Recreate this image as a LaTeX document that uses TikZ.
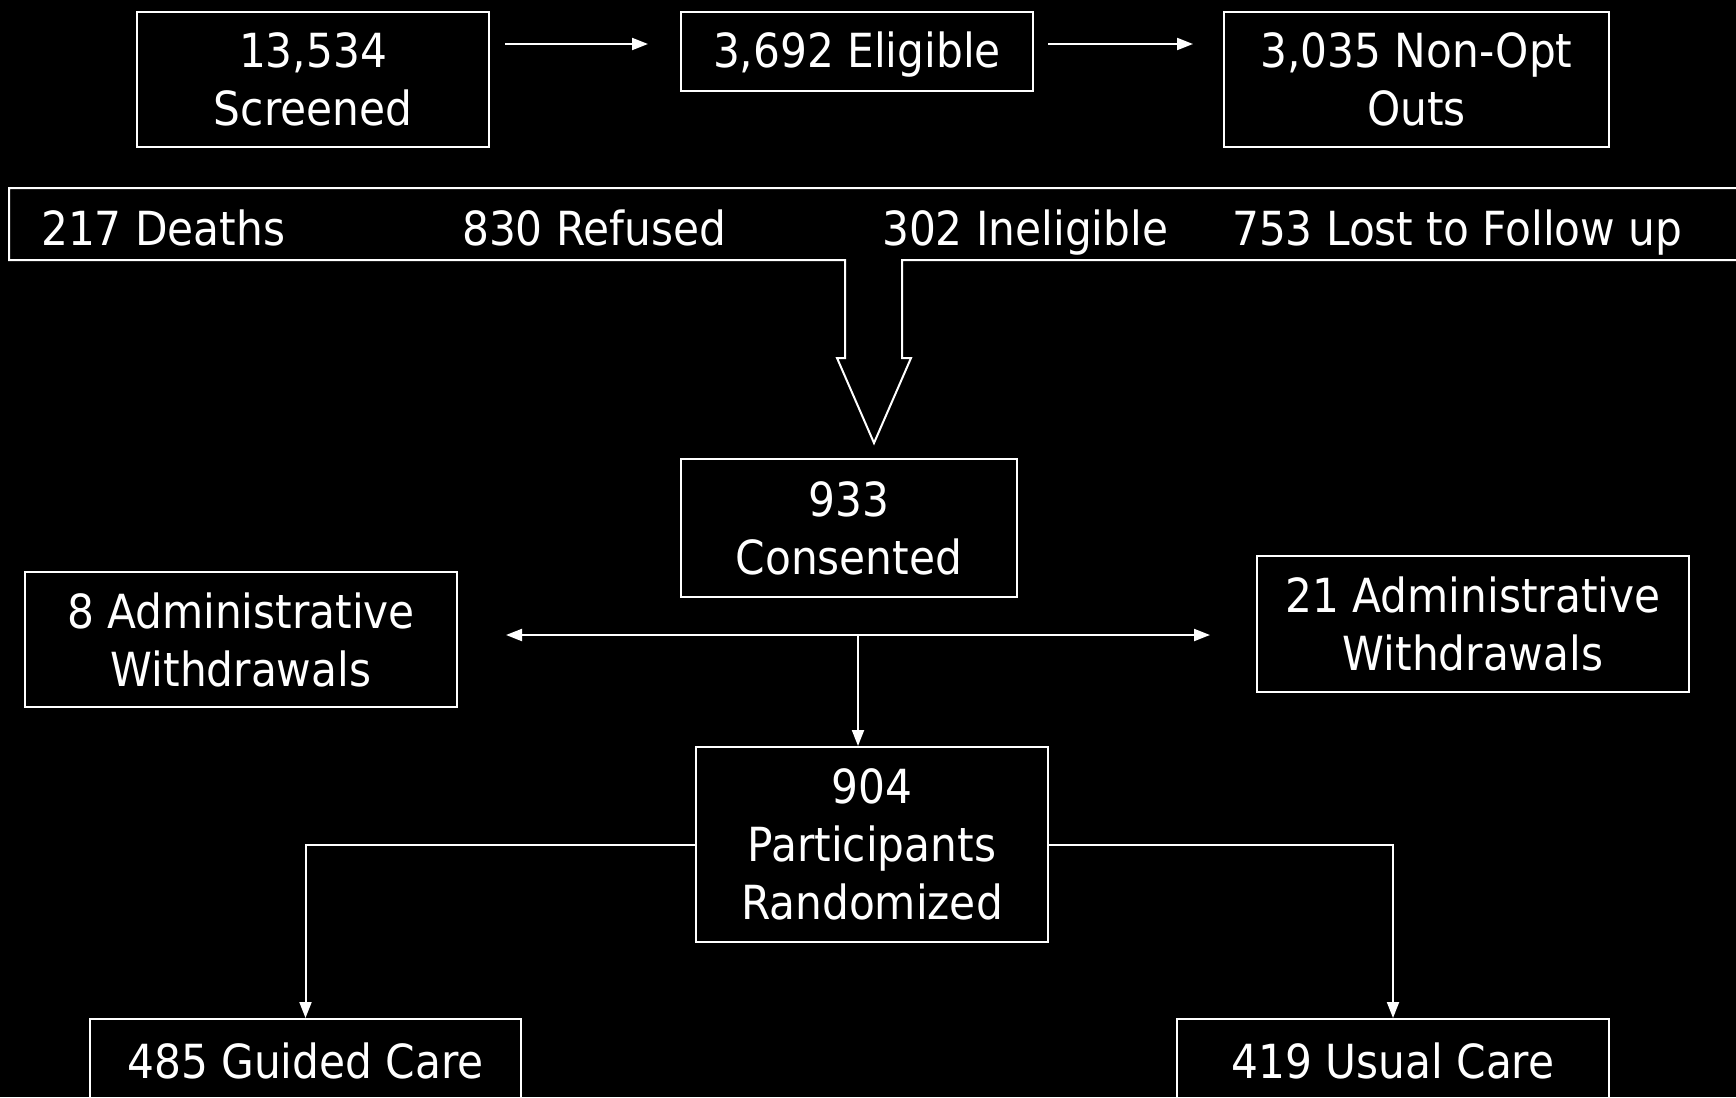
\documentclass[tikz,border=0pt]{standalone}
\usepackage{fontspec}
\setmainfont{DejaVu Sans Condensed}
\usetikzlibrary{arrows.meta}
\begin{document}
\begin{tikzpicture}[x=1pt,y=-1pt,
  every node/.style={text=white,font=\fontsize{47}{58}\selectfont,inner sep=0pt},
  box/.style={draw=white,line width=2pt,align=center},
  conn/.style={draw=white,line width=2pt,-{Triangle[width=12pt,length=16pt]}},
  dconn/.style={draw=white,line width=2pt,{Triangle[width=12pt,length=16pt]}-{Triangle[width=12pt,length=16pt]}}]
\fill[black] (0,0) rectangle (1736,1097);
\useasboundingbox (0,0) rectangle (1736,1097);
\clip (0,0) rectangle (1736,1097);
% top row
\node[box,minimum width=352pt,minimum height=135pt] (scr) at (313,79.5) {13,534\\Screened};
\node[box,minimum width=352pt,minimum height=79pt] (eli) at (857,51.5) {};
\node (elit) at (857,55) {3,692 Eligible};
\node[box,minimum width=385pt,minimum height=135pt] (nop) at (1416.5,79.5) {3,035 Non-Opt\\Outs};
\coordinate (a1s) at (505,44); \coordinate (a1e) at (648,44);
\coordinate (a2s) at (1048,44); \coordinate (a2e) at (1193,44);
\draw[conn] (a1s) -- (a1e);
\draw[conn] (a2s) -- (a2e);
% band with big arrow
\draw[white,line width=2pt,line join=miter] (845,260) -- (9,260) -- (9,188) -- (1760,188) -- (1760,260) -- (902,260) -- (902,358) -- (911,358) -- (874,443) -- (837,358) -- (845,358) -- cycle;
\node[anchor=base west] (dea) at (41,245) {217 Deaths};
\node[anchor=base west] (ref) at (462,245) {830 Refused};
\node[anchor=base west] (ine) at (882,245) {302 Ineligible};
\node[anchor=base west] (los) at (1232,245) {753 Lost to Follow up};
% consented
\node[box,minimum width=336pt,minimum height=138pt] (con) at (849,528) {933\\Consented};
\node[box,minimum width=432pt,minimum height=135pt] (ad8) at (241,639.5) {8 Administrative\\Withdrawals};
\node[box,minimum width=432pt,minimum height=136pt] (ad21) at (1473,624) {21 Administrative\\Withdrawals};
\coordinate (dl) at (506,635); \coordinate (dr) at (1210,635); \coordinate (dm) at (858,635);
\draw[dconn] (dl) -- (dr);
\node[box,minimum width=352pt,minimum height=195pt] (ran) at (872,844.5) {904\\Participants\\Randomized};
\draw[conn] (dm) -- (dm |- ran.north);
% bottom
\node[box,minimum width=431pt,minimum height=204pt,anchor=north] (gui) at (305.5,1018) {};
\node[box,minimum width=432pt,minimum height=204pt,anchor=north] (usu) at (1393,1018) {};
\node (guit) at (305.5,1061) {485 Guided Care};
\node (usut) at (1393,1061) {419 Usual Care};
\draw[conn] (ran.west |- 0,845) -| (gui.north);
\draw[conn] (ran.east |- 0,845) -| (usu.north);
\end{tikzpicture}
\end{document}
